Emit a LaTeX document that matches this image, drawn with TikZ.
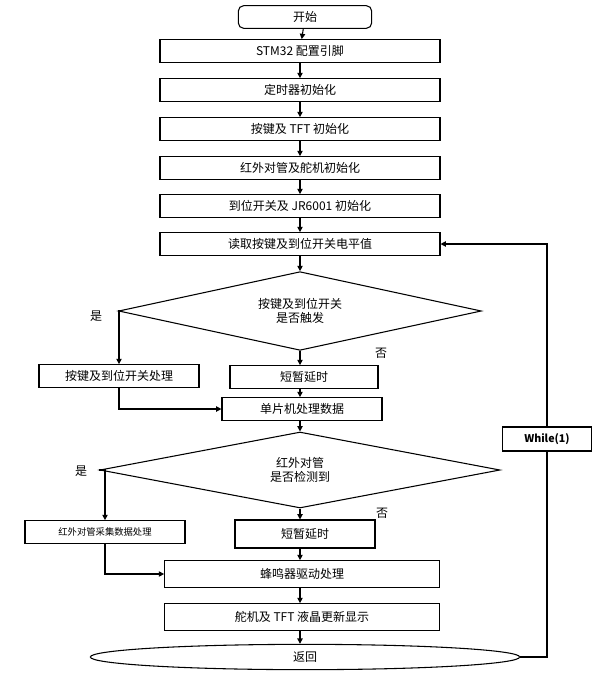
\documentclass[tikz,border=0pt]{standalone}
\usepackage{fontspec}
\setmainfont{Noto Sans CJK SC}
\usetikzlibrary{arrows.meta,shapes.geometric}
\begin{document}
\begin{tikzpicture}[x=0.75pt,y=-0.75pt,
  box/.style={draw,thick,minimum height=17pt,inner sep=0pt,font=\small},
  dia/.style={draw,thick,diamond,aspect=4.6,inner sep=0pt,font=\small,align=center},
  lab/.style={font=\small},
  arr/.style={thick,-{Triangle[length=4pt,width=4pt]}}]
\useasboundingbox (0,0) rectangle (607,682);
\node[box,rounded corners=4pt,minimum width=100pt] (s) at (305,17) {开始};
\node[box,minimum width=210pt] (b1) at (300,51) {STM32 配置引脚};
\node[box,minimum width=210pt] (b2) at (300,90) {定时器初始化};
\node[box,minimum width=210pt] (b3) at (300,129) {按键及 TFT 初始化};
\node[box,minimum width=210pt] (b4) at (300,168) {红外对管及舵机初始化};
\node[box,minimum width=210pt] (b5) at (300,206) {到位开关及 JR6001 初始化};
\node[box,minimum width=210pt] (b6) at (300,244) {读取按键及到位开关电平值};
\node[dia,minimum width=272pt,minimum height=59pt] (d1) at (300,311) {按键及到位开关\\是否触发};
\node[box,minimum width=120pt] (k) at (119,376) {按键及到位开关处理};
\node[box,minimum width=111pt] (y1) at (304,377) {短暂延时};
\node[box,minimum width=120pt] (c) at (302,409) {单片机处理数据};
\node[dia,minimum width=300pt,minimum height=57pt] (d2) at (300,470) {红外对管\\是否检测到};
\node[box,minimum width=120pt,font=\scriptsize] (h) at (105,532) {红外对管采集数据处理};
\node[box,minimum width=105pt,minimum height=21pt] (y2) at (305,534) {短暂延时};
\node[box,minimum width=206pt,minimum height=20pt] (f) at (302,574) {蜂鸣器驱动处理};
\node[box,minimum width=206pt,minimum height=20pt] (t) at (302,617) {舵机及 TFT 液晶更新显示};
\node[draw,thick,ellipse,minimum width=322pt,minimum height=19pt,inner sep=0pt,font=\small] (r) at (305,657) {返回};
\node[box,minimum width=67pt,minimum height=18pt,font=\footnotesize\bfseries] (w) at (547,439) {While(1)};
\draw[arr] (s) -- (b1);
\draw[arr] (b1) -- (b2);
\draw[arr] (b2) -- (b3);
\draw[arr] (b3) -- (b4);
\draw[arr] (b4) -- (b5);
\draw[arr] (b5) -- (b6);
\draw[arr] (b6) -- (d1);
\draw[arr] (d1.west) -| (k.north);
\draw[arr] (d1.south) -- (d1.south |- y1.north);
\draw[arr] (y1.south -| d1.south) -- (c.north -| d1.south);
\draw[arr] (k.south) |- (c.west);
\draw[arr] (c.south -| d1.south) -- (d2.north);
\draw[arr] (d2.west) -| (h.north);
\draw[arr] (d2.south) -- (d2.south |- y2.north);
\draw[arr] (y2.south -| d2.south) -- (d2.south |- f.north);
\draw[arr] (h.south) |- (f.west);
\draw[arr] (d2.south |- f.south) -- (d2.south |- t.north);
\draw[arr] (d2.south |- t.south) -- (d2.south |- r.north);
\draw[thick] (r.east) -| (w.south);
\draw[arr] (w.north) |- (b6.east);
\node[lab] (l1) at (96,316) {是};
\node[lab] (l2) at (381,353) {否};
\node[lab] (l3) at (81,471) {是};
\node[lab] (l4) at (382,513) {否};
\end{tikzpicture}
\end{document}
